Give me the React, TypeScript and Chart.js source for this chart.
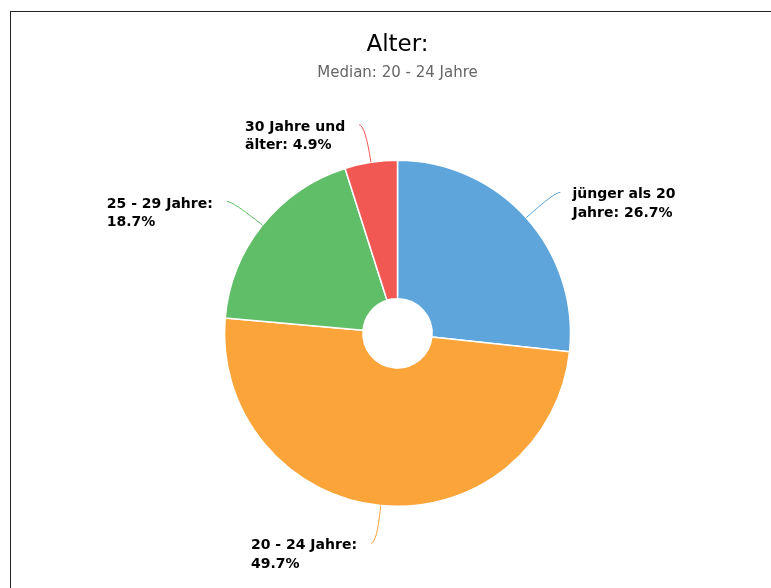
import React, { useEffect, useRef } from "react";
import { Chart, registerables } from "chart.js";

Chart.register(...registerables);

const titleText = "Alter:";
const subtitleText = "Median: 20 - 24 Jahre";
const categories = ["jünger als 20 Jahre", "20 - 24 Jahre", "25 - 29 Jahre", "30 Jahre und älter"];
const shares = [26.7, 49.7, 18.7, 4.9];
const sliceColors = ["#5DA5DA", "#FAA43A", "#60BD68", "#F15854"];

const FONT = "'DejaVu Sans', 'Noto Sans', sans-serif";

function wrapText(ctx: CanvasRenderingContext2D, text: string, maxWidth: number): string[] {
  const words = text.split(" ");
  const lines: string[] = [];
  let cur = "";
  for (const w of words) {
    const test = cur ? cur + " " + w : w;
    if (cur && ctx.measureText(test).width > maxWidth) {
      lines.push(cur);
      cur = w;
    } else {
      cur = test;
    }
  }
  if (cur) lines.push(cur);
  return lines;
}

const sliceLabelPlugin = {
  id: "sliceLabels",
  afterDatasetsDraw(chart: any) {
    const ctx: CanvasRenderingContext2D = chart.ctx;
    const meta = chart.getDatasetMeta(0);
    ctx.save();
    ctx.font = `bold 14px ${FONT}`;
    ctx.textBaseline = "middle";
    ctx.textAlign = "left";
    meta.data.forEach((arc: any, i: number) => {
      const { x, y, startAngle, endAngle, outerRadius } = arc.getProps(
        ["x", "y", "startAngle", "endAngle", "outerRadius"],
        true
      );
      const mid = (startAngle + endAngle) / 2;
      const ux = Math.cos(mid);
      const uy = Math.sin(mid);
      const side = ux >= 0 ? 1 : -1;
      const tx = x + outerRadius * ux;
      const ty = y + outerRadius * uy;
      const bx = x + (outerRadius + 38) * ux;
      const by = y + (outerRadius + 38) * uy;
      const ex = bx + side * 6;
      const ey = by;
      ctx.strokeStyle = sliceColors[i];
      ctx.lineWidth = 1;
      ctx.beginPath();
      ctx.moveTo(tx, ty);
      ctx.quadraticCurveTo(bx, by, ex, ey);
      ctx.stroke();

      const text = `${categories[i]}: ${shares[i]}%`;
      const lines = wrapText(ctx, text, 112);
      const blockW = Math.max(...lines.map((l) => ctx.measureText(l).width));
      const left = side > 0 ? ex + 12 : ex - 14 - blockW;
      ctx.fillStyle = "#000000";
      lines.forEach((l, k) => {
        ctx.fillText(l, left, ey + 2.5 + k * 18.5);
      });
    });
    ctx.restore();
  },
};

export default function App() {
  const canvasRef = useRef<HTMLCanvasElement | null>(null);

  useEffect(() => {
    if (!canvasRef.current) return;
    const chart = new Chart(canvasRef.current, {
      type: "doughnut",
      data: {
        labels: categories,
        datasets: [
          {
            data: shares,
            backgroundColor: sliceColors,
            borderColor: "#ffffff",
            borderWidth: 1.5,
          },
        ],
      },
      options: {
        responsive: false,
        animation: false,
        radius: 173,
        cutout: "20%",
        layout: { padding: { left: 0, right: 4, top: 0, bottom: 4 } },
        plugins: {
          legend: { display: false },
          tooltip: { enabled: false },
          title: {
            display: true,
            text: titleText,
            color: "#000000",
            font: { family: FONT, size: 23, weight: "normal" },
            padding: { top: 19, bottom: 0 },
          },
          subtitle: {
            display: true,
            text: subtitleText,
            color: "#666666",
            font: { family: FONT, size: 15, weight: "normal" },
            padding: { top: 6, bottom: 0 },
          },
        },
      } as any,
      plugins: [sliceLabelPlugin],
    });
    return () => chart.destroy();
  }, []);

  return (
    <div
      style={{
        position: "absolute",
        left: 10,
        top: 11,
        width: 761,
        height: 577,
        boxSizing: "border-box",
        borderTop: "1px solid #222",
        borderLeft: "1px solid #222",
        overflow: "hidden",
        background: "#fff",
      }}
    >
      <canvas ref={canvasRef} width={777} height={576} style={{ display: "block" }} />
    </div>
  );
}
